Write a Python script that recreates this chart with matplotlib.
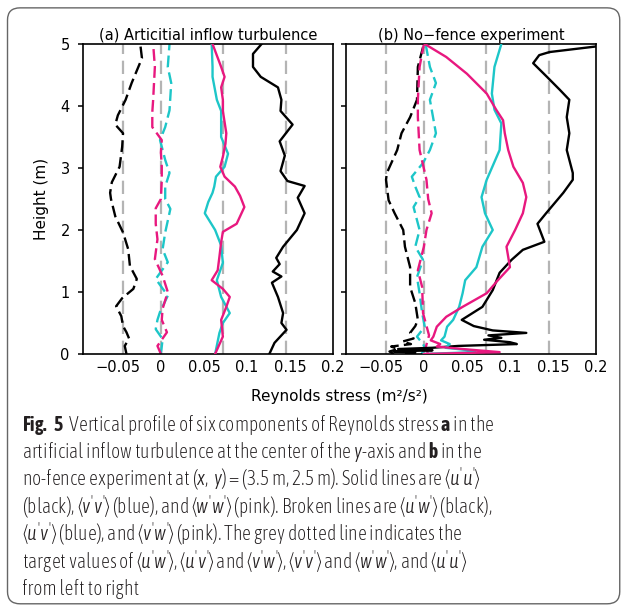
import numpy as np
import matplotlib
matplotlib.use('Agg')
import matplotlib.pyplot as plt
import matplotlib.font_manager as fm
from matplotlib.patches import FancyBboxPatch

# ---------------- data (height in m, stress in m2/s2) ----------------
a_uu_h = [0, 0.18, 0.39, 0.5, 0.66, 0.92, 1.15, 1.25, 1.33, 1.45, 1.55, 1.73, 2.0, 2.27, 2.52, 2.71, 2.79, 2.95, 3.2, 3.43, 3.7, 3.92, 4.1, 4.3, 4.47, 4.63, 4.84, 5.0]
a_uu_v = [0.126, 0.132, 0.146, 0.140, 0.142, 0.136, 0.129, 0.140, 0.130, 0.138, 0.134, 0.142, 0.158, 0.167, 0.159, 0.167, 0.147, 0.139, 0.144, 0.138, 0.153, 0.139, 0.140, 0.136, 0.116, 0.107, 0.107, 0.117]
a_vv_h = [0, 0.34, 0.5, 0.66, 0.92, 1.19, 1.47, 1.75, 2.0, 2.27, 2.45, 2.6, 2.7, 2.86, 3.02, 3.23, 3.5, 3.92, 4.1, 4.47, 4.63, 5.0]
a_vv_v = [0.063, 0.068, 0.072, 0.080, 0.070, 0.065, 0.072, 0.070, 0.063, 0.051, 0.055, 0.060, 0.062, 0.064, 0.074, 0.078, 0.070, 0.070, 0.065, 0.060, 0.060, 0.059]
a_ww_h = [0, 0.28, 0.55, 0.76, 0.92, 1.05, 1.19, 1.35, 1.57, 1.8, 1.97, 2.1, 2.37, 2.55, 2.7, 2.86, 3.02, 3.18, 3.39, 3.56, 3.92, 4.1, 4.3, 4.47, 4.63, 5.0]
a_ww_v = [0.063, 0.072, 0.070, 0.076, 0.080, 0.072, 0.059, 0.066, 0.068, 0.070, 0.072, 0.088, 0.097, 0.092, 0.086, 0.074, 0.069, 0.072, 0.075, 0.076, 0.072, 0.072, 0.070, 0.074, 0.070, 0.060]
a_uw_h = [0, 0.13, 0.25, 0.35, 0.45, 0.61, 0.77, 0.9, 1.05, 1.21, 1.42, 1.69, 1.96, 2.22, 2.5, 2.6, 2.77, 3.02, 3.34, 3.56, 3.7, 3.85, 4.1, 4.37, 4.77, 5.0]
a_uw_v = [-0.040, -0.042, -0.037, -0.040, -0.044, -0.046, -0.052, -0.045, -0.032, -0.028, -0.036, -0.038, -0.044, -0.053, -0.058, -0.059, -0.057, -0.048, -0.045, -0.044, -0.053, -0.050, -0.041, -0.034, -0.022, -0.024]
a_uv_h = [0, 0.24, 0.4, 0.55, 0.68, 0.94, 1.21, 1.48, 1.69, 1.96, 2.34, 2.5, 2.7, 2.92, 3.13, 3.45, 3.66, 3.93, 4.37, 4.63, 5.0]
a_uv_v = [0.000, 0.002, -0.006, -0.004, -0.001, 0.008, -0.006, 0.008, 0.002, 0.005, 0.011, 0.005, 0.005, 0.010, 0.005, -0.001, 0.005, 0.010, 0.012, 0.008, 0.010]
a_vw_h = [0, 0.13, 0.35, 0.55, 0.73, 1.0, 1.26, 1.53, 1.85, 2.1, 2.35, 2.5, 2.8, 3.02, 3.25, 3.45, 3.66, 3.9, 4.1, 4.37, 4.63, 5.0]
a_vw_v = [0.000, -0.004, 0.007, 0.001, 0.002, 0.008, 0.002, -0.007, -0.004, -0.006, -0.006, 0.000, 0.001, 0.001, 0.000, 0.001, -0.010, -0.010, -0.009, -0.008, -0.007, -0.009]

b_uu_h = [0, 0.02, 0.04, 0.06, 0.08, 0.10, 0.13, 0.16, 0.19, 0.23, 0.26, 0.30, 0.34, 0.38, 0.45, 0.55, 0.76, 1.03, 1.31, 1.52, 1.68, 1.81, 2.1, 2.27, 2.6, 2.81, 2.92, 3.29, 3.56, 3.82, 4.1, 4.26, 4.47, 4.69, 4.82, 4.87, 4.96]
b_uu_v = [-0.02, -0.01, -0.035, 0.01, -0.03, 0.010, 0.040, 0.108, 0.100, 0.070, 0.090, 0.075, 0.119, 0.080, 0.058, 0.044, 0.068, 0.080, 0.088, 0.102, 0.115, 0.140, 0.132, 0.142, 0.162, 0.173, 0.173, 0.166, 0.169, 0.166, 0.169, 0.158, 0.143, 0.127, 0.134, 0.146, 0.2]
b_vv_h = [0, 0.03, 0.06, 0.1, 0.16, 0.22, 0.28, 0.44, 0.55, 0.76, 0.98, 1.19, 1.4, 1.73, 2.0, 2.27, 2.53, 2.81, 3.29, 3.72, 3.94, 4.2, 4.63, 5.0]
b_vv_v = [0.0, 0.06, 0.053, 0.025, 0.030, 0.020, 0.024, 0.027, 0.034, 0.041, 0.045, 0.048, 0.061, 0.068, 0.080, 0.071, 0.067, 0.073, 0.088, 0.090, 0.082, 0.079, 0.082, 0.090]
b_ww_h = [0, 0.03, 0.08, 0.12, 0.16, 0.22, 0.28, 0.44, 0.6, 0.76, 0.98, 1.19, 1.4, 1.73, 2.0, 2.27, 2.53, 2.76, 3.02, 3.29, 3.56, 3.77, 3.94, 4.2, 4.52, 4.79, 5.0]
b_ww_v = [0.0, 0.088, 0.045, 0.015, 0.019, 0.008, 0.011, 0.015, 0.026, 0.045, 0.073, 0.086, 0.100, 0.096, 0.106, 0.115, 0.119, 0.115, 0.104, 0.098, 0.094, 0.092, 0.084, 0.073, 0.050, 0.026, 0.001]
b_uw_h = [0, 0.04, 0.08, 0.12, 0.16, 0.2, 0.25, 0.34, 0.45, 0.55, 0.82, 1.08, 1.4, 1.73, 2.0, 2.27, 2.48, 2.81, 2.92, 3.29, 3.56, 3.82, 4.1, 4.63, 5.0]
b_uw_v = [-0.035, -0.040, -0.030, -0.038, -0.015, -0.025, -0.012, -0.016, -0.010, -0.007, -0.010, -0.016, -0.016, -0.022, -0.024, -0.034, -0.041, -0.044, -0.043, -0.031, -0.026, -0.016, -0.008, -0.007, 0.0]
b_uv_h = [0, 0.08, 0.16, 0.28, 0.44, 0.66, 0.98, 1.24, 1.52, 1.73, 2.0, 2.37, 2.53, 2.7, 2.86, 3.08, 3.29, 3.56, 4.1, 4.37, 4.63, 5.0]
b_uv_v = [-0.003, 0.002, -0.001, -0.008, 0.001, -0.002, -0.005, -0.008, -0.001, -0.010, -0.005, -0.012, -0.005, -0.010, -0.014, -0.001, 0.007, 0.014, 0.007, 0.014, 0.007, 0.002]
b_vw_h = [0, 0.1, 0.3, 0.66, 1.08, 1.35, 1.73, 2.0, 2.27, 2.5, 2.81, 3.29, 3.82, 4.1, 4.63, 5.0]
b_vw_v = [0.005, 0.002, 0.006, -0.001, -0.002, -0.007, 0.0, 0.003, 0.009, 0.005, 0.003, -0.005, -0.007, -0.007, -0.005, 0.0]

targets = [-0.0435, 0.0, 0.0725, 0.145]
xticks = [-0.05, 0, 0.05, 0.1, 0.15, 0.2]
xticklabels = ['\u22120.05', '0', '0.05', '0.1', '0.15', '0.2']
yticks = [0, 1, 2, 3, 4, 5]
titles = ['(a) Articitial inflow turbulence', '(b) No\u2212fence experiment']

caption = [
    r"$\mathbf{Fig.\ 5}$  Vertical profile of six components of Reynolds stress $\mathbf{a}$ in the",
    r"artificial inflow turbulence at the center of the $y$-axis and $\mathbf{b}$ in the",
    r"no-fence experiment at $(x,\,y)$ = (3.5 m, 2.5 m). Solid lines are $\langle u^{\prime}u^{\prime}\rangle$",
    r"(black), $\langle v^{\prime}v^{\prime}\rangle$ (blue), and $\langle w^{\prime}w^{\prime}\rangle$ (pink). Broken lines are $\langle u^{\prime}w^{\prime}\rangle$ (black),",
    r"$\langle u^{\prime}v^{\prime}\rangle$ (blue), and $\langle v^{\prime}w^{\prime}\rangle$ (pink). The grey dotted line indicates the",
    r"target values of $\langle u^{\prime}w^{\prime}\rangle$, $\langle u^{\prime}v^{\prime}\rangle$ and $\langle v^{\prime}w^{\prime}\rangle$, $\langle v^{\prime}v^{\prime}\rangle$ and $\langle w^{\prime}w^{\prime}\rangle$, and $\langle u^{\prime}u^{\prime}\rangle$",
    "from left to right",
]

# ---------------- fonts ----------------
names = {f.name for f in fm.fontManager.ttflist}
cap_font = 'Asap Condensed' if 'Asap Condensed' in names else 'Liberation Sans'
it_font = 'Asap Light' if 'Asap Light' in names else cap_font

plt.rcParams['font.family'] = 'DejaVu Sans'
plt.rcParams['mathtext.fontset'] = 'custom'
plt.rcParams['mathtext.rm'] = cap_font + ':light'
plt.rcParams['mathtext.it'] = it_font + ':italic'
plt.rcParams['mathtext.bf'] = cap_font + ':bold'

PINK = '#e8187f'
CYAN = '#1dc6c8'
GREY = '#b4b4b4'

fig = plt.figure(figsize=(6.26, 6.05), dpi=100)
border = FancyBboxPatch((0.012, 0.002), 0.978, 0.985, boxstyle='round,pad=0,rounding_size=0.02',
                        transform=fig.transFigure, fill=False, edgecolor='#666666', linewidth=1.0)
fig.patches.append(border)

ax_a = fig.add_axes([0.1326, 0.4149, 0.3994, 0.5124])
ax_b = fig.add_axes([0.5527, 0.4149, 0.3994, 0.5124])

panels = [
    (ax_a, [(a_uu_h, a_uu_v), (a_vv_h, a_vv_v), (a_ww_h, a_ww_v)],
     [(a_uw_h, a_uw_v), (a_uv_h, a_uv_v), (a_vw_h, a_vw_v)]),
    (ax_b, [(b_uu_h, b_uu_v), (b_vv_h, b_vv_v), (b_ww_h, b_ww_v)],
     [(b_uw_h, b_uw_v), (b_uv_h, b_uv_v), (b_vw_h, b_vw_v)]),
]
colors = ['black', CYAN, PINK]

for i, (ax, solid, broken) in enumerate(panels):
    for t in targets:
        ax.axvline(t, color=GREY, lw=1.6, dashes=(6, 3), zorder=1)
    for (h, v), c in zip(solid, colors):
        ax.plot(v, h, color=c, lw=1.7, zorder=3)
    for (h, v), c in zip(broken, colors):
        ax.plot(v, h, color=c, lw=1.7, dashes=(5, 2.2), zorder=2)
    ax.set_xlim(-0.0905, 0.2)
    ax.set_ylim(0, 5)
    ax.set_xticks(xticks)
    ax.set_xticklabels(xticklabels)
    ax.set_yticks(yticks)
    ax.tick_params(axis='x', length=0, labelsize=10.5, pad=4)
    ax.tick_params(axis='y', direction='out', length=3.5, width=1.1, labelsize=10.5, pad=6)
    for s in ax.spines.values():
        s.set_linewidth(1.2)
    ax.set_title(titles[i], fontsize=10.5, pad=3)
    if i == 1:
        ax.tick_params(axis='y', labelleft=False)

ax_a.set_ylabel('Height (m)', fontsize=11, labelpad=8)
fig.text(0.542, 0.345, 'Reynolds stress (m\u00b2/s\u00b2)', ha='center', va='center', fontsize=11)

y0 = 1 - 425 / 605
step = 27.4 / 605
cap_texts = []
for k, line in enumerate(caption):
    t = fig.text(0.035, y0 - k * step, line, ha='left', va='center', fontsize=14.5,
                 family=[cap_font, 'DejaVu Sans'], fontstyle='normal', fontweight='light',
                 color='#231f20')
    cap_texts.append(t)

# scale the caption so the first line spans the same width as the reference
fig.canvas.draw()
w = cap_texts[0].get_window_extent().width
scale = 471.0 / w
for t in cap_texts:
    t.set_fontsize(14.5 * scale)

fig.savefig('out.png', dpi=100)
